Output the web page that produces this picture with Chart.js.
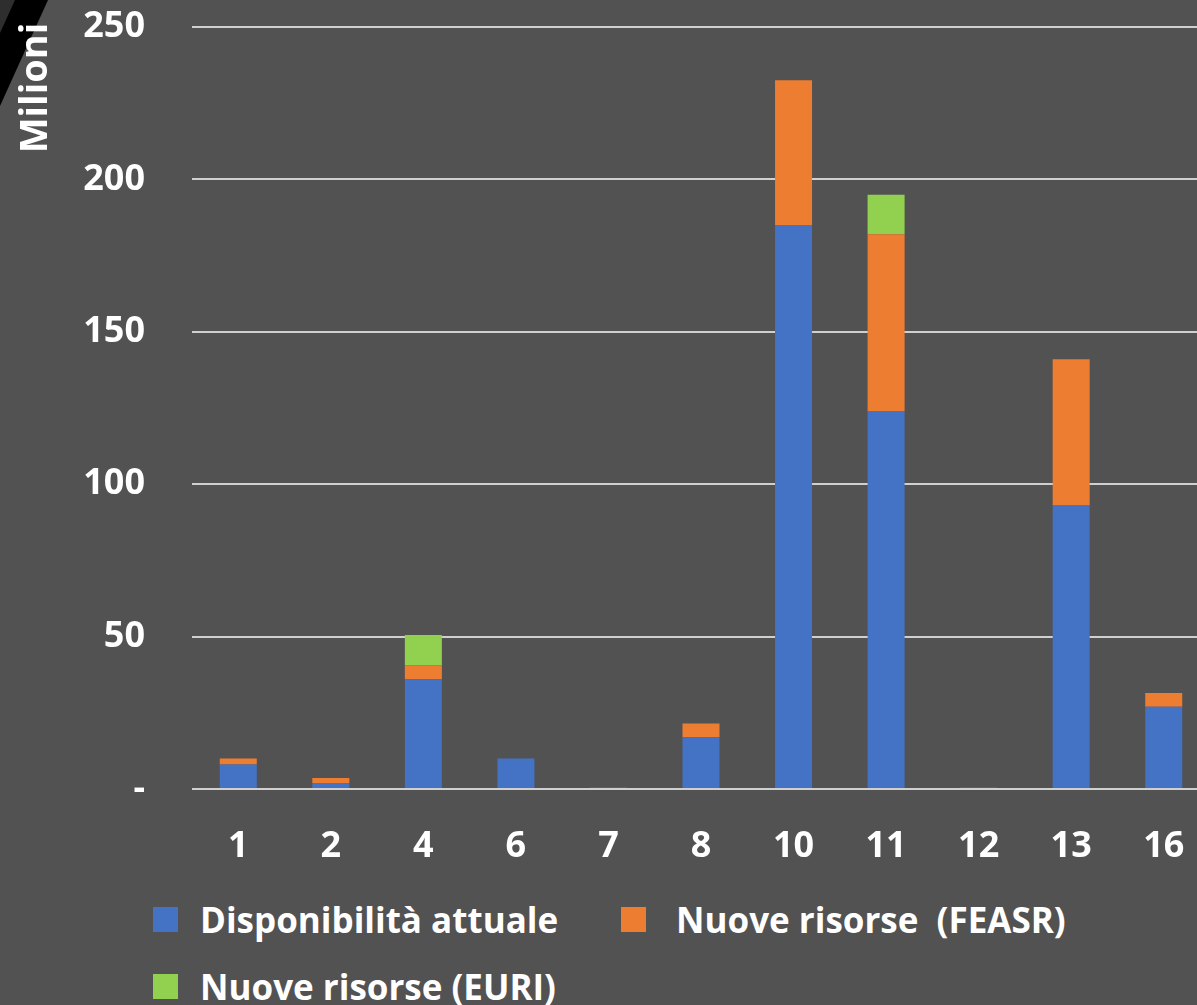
<!DOCTYPE html>
<html>
<head>
<meta charset="utf-8">
<script src="https://cdn.jsdelivr.net/npm/chart.js@4.4.0/dist/chart.umd.min.js"></script>
<style>
  html, body { margin: 0; padding: 0; background: #525252; overflow: hidden; width: 1197px; height: 1005px; }
  #c { position: absolute; left: 0; top: 0; }
  .item { position: absolute; display: flex; align-items: center; font: bold 35px "Open Sans", sans-serif; color: #fff; white-space: pre; }
  .box { width: 25px; height: 25px; margin-right: 22px; }
</style>
</head>
<body>
<canvas id="c" width="1210" height="880"></canvas>
<div id="legend"></div>
<script>
// ======================
// DATA
// ======================
const categories = ['1', '2', '4', '6', '7', '8', '10', '11', '12', '13', '16'];
const disponibilita = [8, 2, 36, 10, 0.5, 17, 185, 124, 0.5, 93, 27];
const feasr = [2, 1.6, 4.5, 0, 0, 4.5, 47.5, 58, 0, 48, 4.5];
const euri = [0, 0, 10, 0, 0, 0, 0, 13, 0, 0, 0];
const seriesNames = ['Disponibilità attuale', 'Nuove risorse  (FEASR)', 'Nuove risorse (EURI)'];
const seriesColors = ['#4472C4', '#ED7D31', '#92D050'];
const yTickValues = [0, 50, 100, 150, 200, 250];

// ======================
// DECORATION + AXIS TITLE
// ======================
const deco = {
  id: 'deco',
  beforeDraw(chart) {
    const ctx = chart.ctx;
    ctx.save();
    ctx.fillStyle = '#000';
    ctx.beginPath();
    ctx.moveTo(0, 0); ctx.lineTo(48, 0); ctx.lineTo(0, 106); ctx.closePath();
    ctx.fill();
    ctx.fillStyle = '#2e2e2e';
    ctx.beginPath();
    ctx.moveTo(0, 0); ctx.lineTo(15, 0); ctx.lineTo(0, 33); ctx.closePath();
    ctx.fill();
    ctx.restore();
  },
  afterDraw(chart) {
    const ctx = chart.ctx;
    ctx.save();
    ctx.translate(36, 88);
    ctx.rotate(-Math.PI / 2);
    ctx.fillStyle = '#fff';
    ctx.font = 'bold 38px "Open Sans", sans-serif';
    ctx.textAlign = 'center';
    ctx.textBaseline = 'middle';
    ctx.fillText('Milioni', 0, 0);
    ctx.restore();
  }
};

const tickFont = { family: '"Open Sans", sans-serif', size: 36, weight: 'bold' };

const chart = new Chart(document.getElementById('c'), {
  type: 'bar',
  data: {
    labels: categories,
    datasets: [disponibilita, feasr, euri].map((d, i) => ({
      label: seriesNames[i],
      data: d,
      backgroundColor: seriesColors[i],
      borderWidth: 0,
      barPercentage: 0.4,
      categoryPercentage: 1
    }))
  },
  options: {
    responsive: false,
    animation: false,
    devicePixelRatio: 1,
    layout: { padding: { top: 27, left: 0, right: 0, bottom: 0 } },
    plugins: {
      legend: { display: false },
      tooltip: { enabled: false }
    },
    scales: {
      x: {
        stacked: true,
        grid: { display: false },
        border: { display: false },
        ticks: { color: '#fff', font: tickFont, padding: 28, maxRotation: 0 },
        afterFit(s) { s.height = 91; s.paddingLeft = 0; s.paddingRight = 0; }
      },
      y: {
        stacked: true,
        min: 0,
        max: 250,
        grid: { color: '#d0d0d0', lineWidth: 2, drawTicks: false },
        border: { display: false },
        afterBuildTicks(s) { s.ticks = yTickValues.map(v => ({ value: v })); },
        ticks: {
          color: '#fff',
          font: tickFont,
          padding: 47,
          callback: v => (v === 0 ? '-' : v)
        },
        afterFit(s) { s.width = 192; s.paddingTop = 0; s.paddingBottom = 0; }
      }
    }
  },
  plugins: [deco]
});

// ======================
// LEGEND (html, from chart items)
// ======================
const legendPos = [[153, 919, 22], [621, 919, 30], [153, 986, 22]];
const items = Chart.defaults.plugins.legend.labels.generateLabels(chart);
let html = '';
items.forEach((it, i) => {
  const p = legendPos[i];
  html += `<div class="item" style="left:${p[0]}px;top:${p[1] - 22}px;height:44px">
    <span class="box" style="background:${it.fillStyle};margin-right:${p[2]}px"></span>${it.text}</div>`;
});
document.getElementById('legend').innerHTML = html;
</script>
</body>
</html>
